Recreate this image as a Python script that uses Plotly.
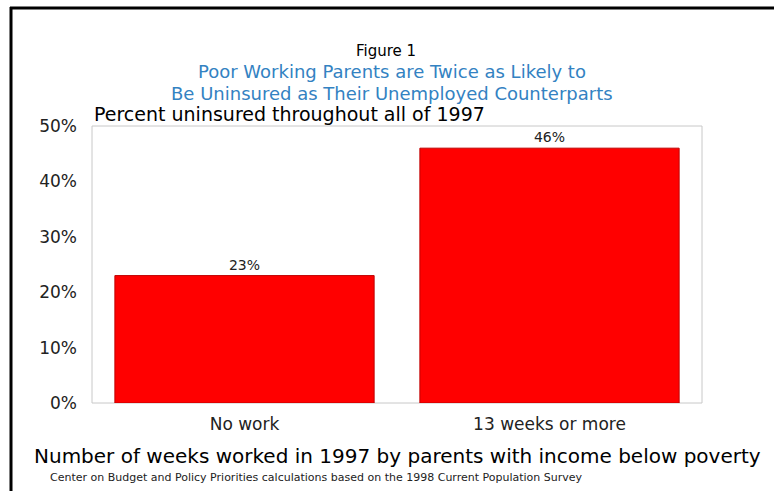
import plotly.graph_objects as go

categories = ["No work", "13 weeks or more"]
values = [23, 46]
value_labels = ["23%", "46%"]
tick_vals = [0, 10, 20, 30, 40, 50]
tick_text = ["0%", "10%", "20%", "30%", "40%", "50%"]

W, H = 774, 491
L, R, T, B = 92, 72, 126, 88
pw, ph = W - L - R, H - T - B

def px(x):
    return (x - L) / pw

def py(y):
    return (H - B - y) / ph

FONT = "DejaVu Sans, Liberation Sans, Arial, sans-serif"

fig = go.Figure(go.Bar(
    x=categories, y=values,
    marker=dict(color="#ff0000", line=dict(color="#c00000", width=1)),
    text=value_labels, textposition="outside",
    textfont=dict(family=FONT, size=14, color="#222222"),
    cliponaxis=False,
))

fig.update_layout(
    width=W, height=H,
    margin=dict(l=L, r=R, t=T, b=B),
    paper_bgcolor="white", plot_bgcolor="white",
    bargap=0.15,
    showlegend=False,
    font=dict(family=FONT, color="#222222"),
    xaxis=dict(showgrid=False, showline=False, zeroline=False,
               tickfont=dict(size=17, color="#222222"), ticks="", ticklen=0,
               ticklabelstandoff=9),
    yaxis=dict(range=[0, 50], tickvals=tick_vals, ticktext=tick_text,
               showgrid=False, zeroline=False, showline=False,
               tickfont=dict(size=17, color="#222222"), ticks="", ticklabelstandoff=14),
)

# plot area frame
fig.add_shape(type="rect", xref="paper", yref="paper", x0=0, x1=1, y0=0, y1=1,
              line=dict(color="#c8c8c8", width=1), layer="below")
# outer black border (left and top)
fig.add_shape(type="line", xref="paper", yref="paper", x0=px(11), x1=px(11), y0=py(7), y1=py(500),
              line=dict(color="black", width=3))
fig.add_shape(type="line", xref="paper", yref="paper", x0=px(10), x1=px(790), y0=py(8), y1=py(8),
              line=dict(color="black", width=3))

ann = [
    ("Figure 1", 386, 51, 15, "black", "center"),
    ("Poor Working Parents are Twice as Likely to", 392, 72, 18, "#3382c2", "center"),
    ("Be Uninsured as Their Unemployed Counterparts", 392, 93, 18, "#3382c2", "center"),
    ("Percent uninsured throughout all of 1997", 92, 114, 19, "black", "left"),
    ("Number of weeks worked in 1997 by parents with income below poverty", 397, 456, 20, "black", "center"),
    ("Center on Budget and Policy Priorities calculations based on the 1998 Current Population Survey", 48, 477, 11, "#222222", "left"),
]
for text, x, y, size, color, anchor in ann:
    fig.add_annotation(text=text, xref="paper", yref="paper", x=px(x), y=py(y),
                       xanchor=anchor, yanchor="middle", showarrow=False,
                       font=dict(family=FONT, size=size, color=color))

fig.write_html("out.html")
